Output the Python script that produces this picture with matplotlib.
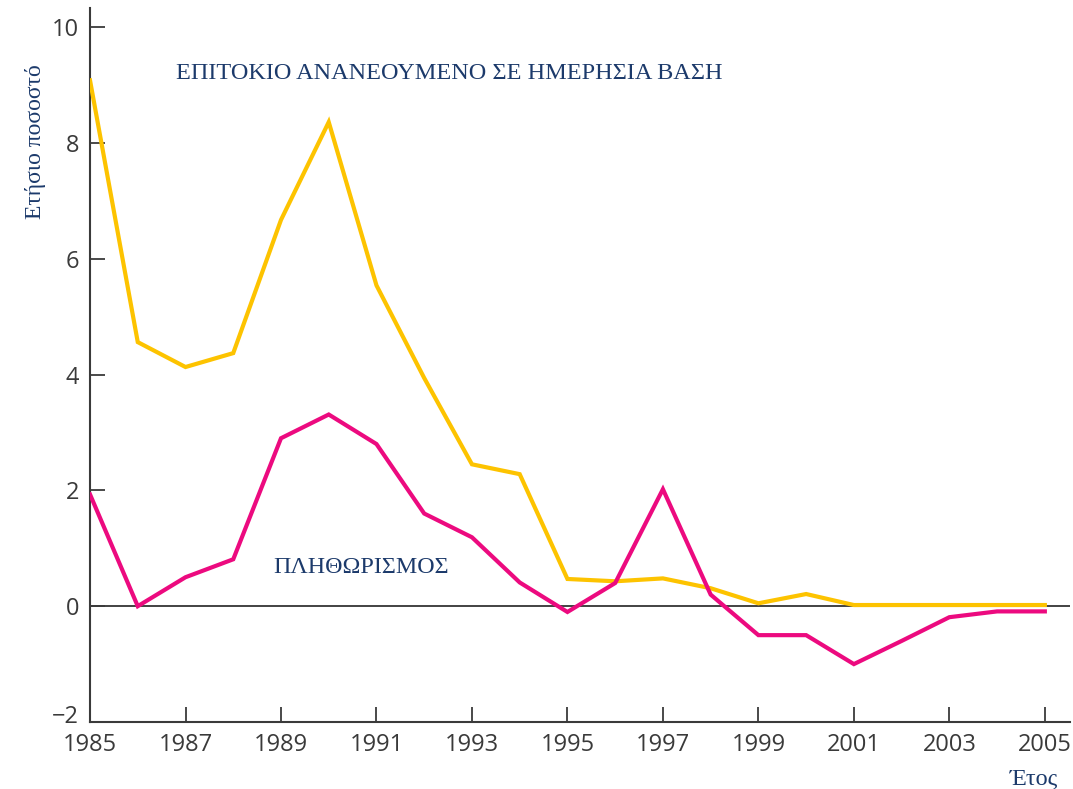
import matplotlib.pyplot as plt
import matplotlib.transforms as mtransforms

years = list(range(1985, 2006))
interest_rate = [9.08, 4.56, 4.13, 4.37, 6.67, 8.36, 5.54, 3.94, 2.45, 2.28,
                 0.47, 0.43, 0.48, 0.31, 0.05, 0.21, 0.02, 0.02, 0.02, 0.02, 0.02]
inflation = [1.93, 0.0, 0.5, 0.81, 2.9, 3.31, 2.8, 1.6, 1.19, 0.41,
             -0.1, 0.4, 2.02, 0.2, -0.5, -0.5, -1.0, -0.6, -0.19, -0.09, -0.09]
x_ticks = list(range(1985, 2006, 2))
y_ticks = [-2, 0, 2, 4, 6, 8, 10]
y_tick_labels = ["\u22122", "0", "2", "4", "6", "8", "10"]

navy = "#1c3a6b"
tick_gray = "#3a3a3a"

fig = plt.figure(figsize=(10.73, 7.89), dpi=100)
ax = fig.add_axes([0.0839, 0.0849, 0.913, 0.905])

ax.axhline(0, color="#222222", linewidth=1.2, zorder=1)
ax.plot(years, interest_rate, color="#FDC300", linewidth=3, zorder=3,
        solid_joinstyle="miter")
ax.plot(years, inflation, color="#EC0A7F", linewidth=3, zorder=3,
        solid_joinstyle="miter")

ax.set_xlim(1985, 2005.52)
ax.set_ylim(-2, 10.33)

ax.set_xticks(x_ticks)
ax.set_xticklabels([str(y) for y in x_ticks])
ax.set_yticks(y_ticks)
ax.set_yticklabels(y_tick_labels)

for side in ["top", "right"]:
    ax.spines[side].set_visible(False)
for side in ["left", "bottom"]:
    ax.spines[side].set_color(tick_gray)
    ax.spines[side].set_linewidth(1.5)

ax.tick_params(axis="both", direction="in", length=11, width=1.3,
               color=tick_gray, labelcolor=tick_gray, labelsize=17)
ax.tick_params(axis="x", pad=8)
ax.tick_params(axis="y", pad=8)
for lbl in ax.get_xticklabels() + ax.get_yticklabels():
    lbl.set_family("Open Sans")

# the bottom y label sits a little above its tick, clear of "1985"
low_label = ax.get_yticklabels()[0]
low_label.set_transform(low_label.get_transform() +
                        mtransforms.ScaledTranslation(0, 8 / 100, fig.dpi_scale_trans))

ax.text(1986.8, 9.2, "ΕΠΙΤΟΚΙΟ ΑΝΑΝΕΟΥΜΕΝΟ ΣΕ ΗΜΕΡΗΣΙΑ ΒΑΣΗ",
        family="Liberation Serif", fontsize=17.5, color=navy, va="center")
ax.text(1988.84, 0.67, "ΠΛΗΘΩΡΙΣΜΟΣ",
        family="Liberation Serif", fontsize=17.3, color=navy, va="center")

fig.text(0.033, 0.821, "Ετήσιο ποσοστό", rotation=90, family="Liberation Serif",
         fontsize=17, color=navy, ha="center", va="center")
fig.text(0.986, 0.012, "Έτος", family="Liberation Serif",
         fontsize=17.5, color=navy, ha="right", va="center")

fig.savefig("out.png", dpi=100)
